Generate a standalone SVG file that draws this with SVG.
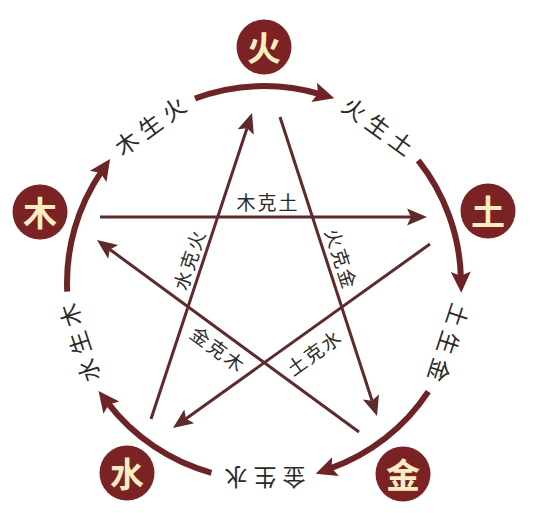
<svg xmlns="http://www.w3.org/2000/svg" width="544" height="513" viewBox="0 0 544 513">
<style>
.arc{fill:none;stroke:#6e2426;stroke-width:6}
.star{fill:none;stroke:#5e2a2c;stroke-width:3}
.node circle{fill:#7a2224}
.node text{fill:#fbedc2;font-family:"Noto Sans CJK SC","Noto Sans",sans-serif;font-weight:bold;font-size:34px;text-anchor:middle;dominant-baseline:central}
.al{fill:#2a2a2a;font-family:"Noto Sans CJK SC","Noto Sans",sans-serif;font-size:23px;letter-spacing:6px;text-anchor:middle;dominant-baseline:central}
.sl{fill:#2a2a2a;font-family:"Noto Sans CJK SC","Noto Sans",sans-serif;font-size:19px;letter-spacing:2px;text-anchor:middle;dominant-baseline:central}
</style>
<defs>
<marker id="ah" markerUnits="userSpaceOnUse" orient="auto" markerWidth="40" markerHeight="40" refX="0" refY="0" overflow="visible">
<path d="M15,0 L-6,-10 L-2,0 L-6,10 Z" fill="#6e2426"/>
</marker>
<marker id="sh" markerUnits="userSpaceOnUse" orient="auto" markerWidth="40" markerHeight="40" refX="0" refY="0" overflow="visible">
<path d="M16,0 L-4,-8.5 L0,0 L-4,8.5 Z" fill="#5e2a2c"/>
</marker>
</defs>
<rect width="544" height="513" fill="#ffffff"/>
<g id="connectors">
<path class="arc" d="M211.4,472.8 A197,197 0 0 1 107.7,402.9" marker-end="url(#ah)"/>
<path class="arc" d="M67.2,291.6 A197,197 0 0 1 101.6,171.4" marker-end="url(#ah)"/>
<path class="arc" d="M195.0,98.5 A197,197 0 0 1 319.9,94.1" marker-end="url(#ah)"/>
<path class="arc" d="M418.2,160.4 A197,197 0 0 1 460.9,277.8" marker-end="url(#ah)"/>
<path class="arc" d="M428.3,391.7 A197,197 0 0 1 329.8,468.7" marker-end="url(#ah)"/>
<line class="star" x1="100" y1="217" x2="411" y2="217" marker-end="url(#sh)"/>
<line class="star" x1="280" y1="117" x2="372.1" y2="400.8" marker-end="url(#sh)"/>
<line class="star" x1="430" y1="244" x2="186.0" y2="418.7" marker-end="url(#sh)"/>
<line class="star" x1="359" y1="432" x2="109.9" y2="249.5" marker-end="url(#sh)"/>
<line class="star" x1="151" y1="419" x2="247.0" y2="128.2" marker-end="url(#sh)"/>
<text class="al" transform="translate(78.5,343.3) rotate(252)" x="3">水生木</text>
<text class="al" transform="translate(149.4,125.2) rotate(-36)" x="3">木生火</text>
<text class="al" transform="translate(378.6,125.2) rotate(36)" x="3">火生土</text>
<text class="al" transform="translate(449.5,343.3) rotate(108)" x="3">土生金</text>
<text class="al" transform="translate(265,479) rotate(180)" x="3">金生水</text>
<text class="sl" transform="translate(267,201)" x="1">木克土</text>
<text class="sl" transform="translate(188,260) rotate(-72)" x="1">水克火</text>
<text class="sl" transform="translate(342,258) rotate(72)" x="1">火克金</text>
<text class="sl" transform="translate(218,348) rotate(36.4)" x="1">金克木</text>
<text class="sl" transform="translate(313,352) rotate(-35.7)" x="1">土克水</text>
</g>
<g id="node-fire" class="node"><circle cx="264" cy="47" r="27.5"/><text x="264" y="46">火</text></g>
<g id="node-earth" class="node"><circle cx="488" cy="211" r="27.5"/><text x="488" y="210">土</text></g>
<g id="node-metal" class="node"><circle cx="403" cy="474" r="27.5"/><text x="403" y="473">金</text></g>
<g id="node-water" class="node"><circle cx="127" cy="473" r="27.5"/><text x="127" y="472">水</text></g>
<g id="node-wood" class="node"><circle cx="40" cy="212" r="27.5"/><text x="40" y="211">木</text></g>
</svg>
